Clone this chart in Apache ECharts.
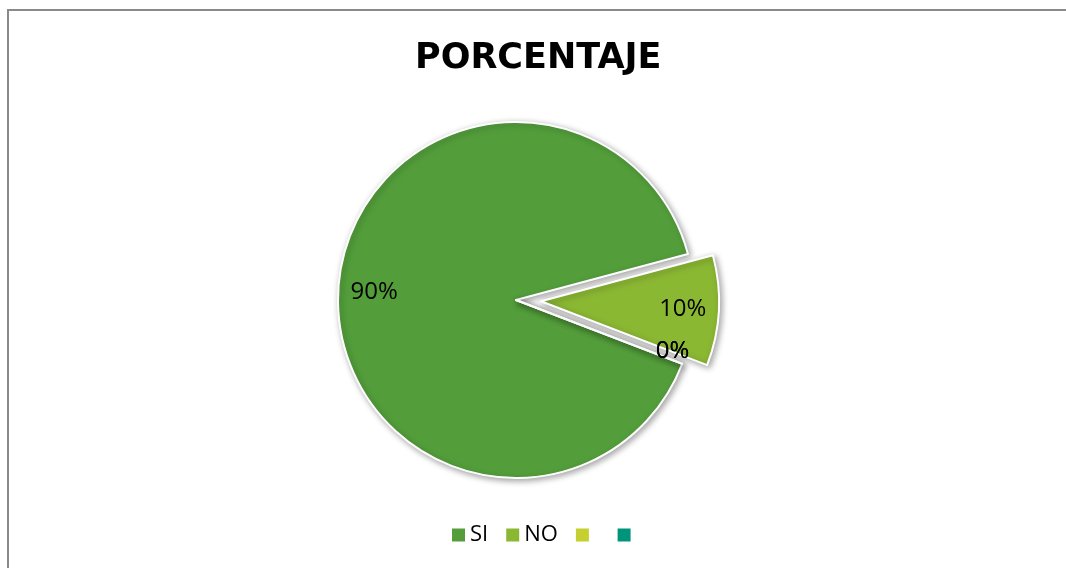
<!DOCTYPE html>
<html>
<head>
<meta charset="utf-8">
<script src="https://cdn.jsdelivr.net/npm/echarts@6/dist/echarts.min.js"></script>
<style>
html, body { margin: 0; padding: 0; background: #fff; }
#chart { width: 1066px; height: 568px; }
</style>
</head>
<body>
<div id="chart"></div>
<script>
var titleText = 'PORCENTAJE';
var categories = ['SI', 'NO', ' ', '  '];
var values = [90, 10, 0, 0];
var colors = ['#539E3B', '#8BB833', '#C5CF2F', '#00957A'];
var explodedName = 'NO';

var buildData = function (transparent) {
    var res = [];
    for (var i = 0; i < categories.length; i++) {
        res.push({
            name: categories[i],
            value: values[i],
            selected: categories[i] === explodedName,
            itemStyle: { color: transparent ? 'rgba(0,0,0,0)' : colors[i] }
        });
    }
    return res;
};

var chart = echarts.init(document.getElementById('chart'));
var option = {
    backgroundColor: '#fff',
    animation: false,
    title: {
        text: titleText,
        left: 410,
        top: 36,
        textStyle: {
            fontFamily: 'DejaVu Sans',
            fontSize: 35,
            fontWeight: 'bold',
            color: '#000'
        }
    },
    legend: {
        data: categories.map(function (c, i) {
            return { name: c, itemStyle: { color: colors[i], borderWidth: 0, shadowBlur: 0 } };
        }),
        left: 452,
        top: 524,
        padding: 0,
        icon: 'rect',
        itemWidth: 13,
        itemHeight: 13,
        itemGap: 18,
        selectedMode: false,
        itemStyle: { borderWidth: 0, shadowBlur: 0 },
        textStyle: { fontFamily: 'Open Sans', fontSize: 22, color: '#000' }
    },
    graphic: [{
        type: 'rect',
        shape: { x: 8, y: 10, width: 1070, height: 570 },
        style: { fill: 'none', stroke: '#8a8a8a', lineWidth: 2 },
        silent: true
    }],
    series: [{
        // sectors
        type: 'pie',
        z: 2,
        center: [516, 300],
        radius: 178,
        startAngle: -21,
        clockwise: true,
        selectedMode: 'single',
        selectedOffset: 25,
        percentPrecision: 0,
        silent: true,
        label: { show: false },
        labelLine: { show: false },
        itemStyle: {
            borderColor: '#fff',
            borderWidth: 2,
            shadowBlur: 6,
            shadowOffsetX: 2,
            shadowOffsetY: 2,
            shadowColor: 'rgba(0,0,0,0.35)'
        },
        data: buildData(false)
    }, {
        // labels only, placed at ~0.8 of the radius
        type: 'pie',
        z: 10,
        center: [516, 300],
        radius: [100, 178],
        startAngle: -21,
        clockwise: true,
        selectedMode: 'single',
        selectedOffset: 25,
        percentPrecision: 0,
        silent: true,
        label: {
            show: true,
            position: 'inside',
            formatter: '{d}%',
            fontFamily: 'Open Sans',
            fontSize: 24,
            color: '#000'
        },
        labelLine: { show: false },
        labelLayout: function (params) {
            if (values[params.dataIndex] === 0) {
                return { dx: 24 };
            }
        },
        emphasis: { disabled: true },
        data: buildData(true)
    }]
};
chart.setOption(option);
window.addEventListener('resize', function () {
    chart.resize();
});
</script>
</body>
</html>
